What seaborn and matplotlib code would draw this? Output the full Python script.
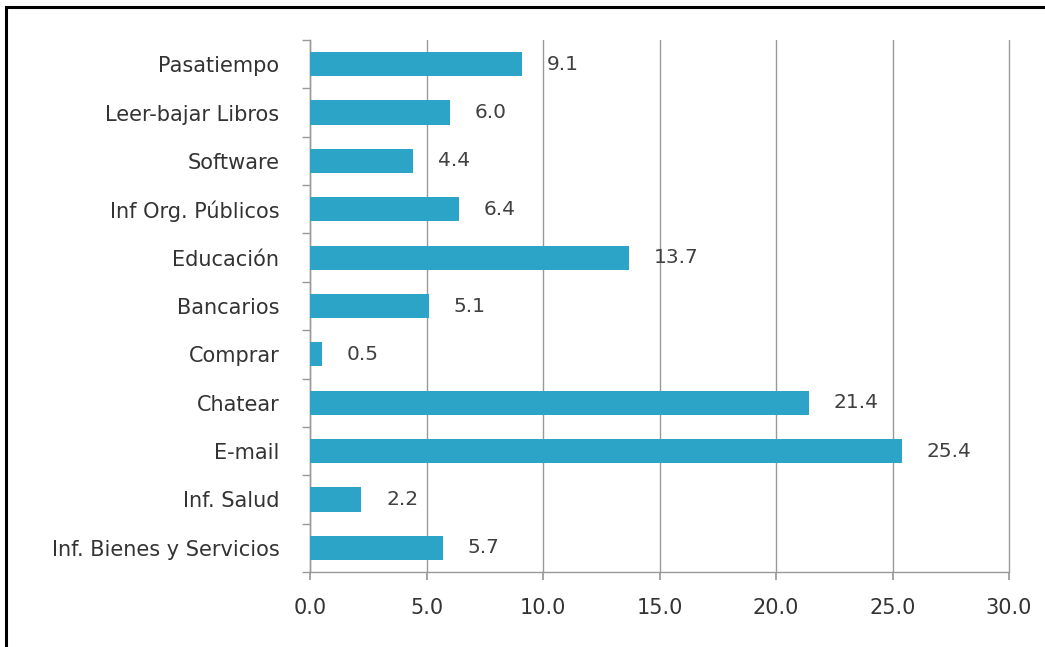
import numpy as np
import pandas as pd
import matplotlib
matplotlib.use("Agg")
import matplotlib.pyplot as plt
import seaborn as sns
from matplotlib.patches import Rectangle

categories = ["Pasatiempo", "Leer-bajar Libros", "Software", "Inf Org. Públicos",
              "Educación", "Bancarios", "Comprar", "Chatear", "E-mail",
              "Inf. Salud", "Inf. Bienes y Servicios"]
values = [9.1, 6.0, 4.4, 6.4, 13.7, 5.1, 0.5, 21.4, 25.4, 2.2, 5.7]
x_ticks = [0, 5, 10, 15, 20, 25, 30]

sns.set_theme(style="white")
plt.rcParams["font.family"] = ["DejaVu Sans"]

df = pd.DataFrame({"cat": categories, "val": values})

fig = plt.figure(figsize=(10.45, 6.47), dpi=100)
ax = fig.add_axes([310 / 1045, 1 - 572 / 647, 699 / 1045, 532 / 647])

sns.barplot(data=df, x="val", y="cat", orient="h", color="#2ba4c8",
            saturation=1, width=0.5, ax=ax, zorder=3)
for bar in ax.patches:
    bar.set_edgecolor("none")

ax.bar_label(ax.containers[0], fmt="%.1f", padding=18, fontsize=14.5,
             color="#404040", zorder=5)

ax.set_xlim(0, 30)
ax.set_ylim(len(categories) - 0.5, -0.5)
ax.set_xticks(x_ticks)
ax.set_xticklabels([f"{t:.1f}" for t in x_ticks])
ax.set_xlabel("")
ax.set_ylabel("")
ax.grid(axis="x", color="#999999", linewidth=1, zorder=0)
for gl in ax.get_xgridlines():
    gl.set_clip_on(False)

for side in ["top", "right"]:
    ax.spines[side].set_visible(False)
for side in ["left", "bottom"]:
    ax.spines[side].set_color("#999999")
    ax.spines[side].set_linewidth(1)

ax.set_yticks(np.arange(-0.5, len(categories), 1), minor=True)
ax.tick_params(axis="y", which="major", length=0, pad=22, labelsize=15,
               labelcolor="#333333")
ax.tick_params(axis="y", which="minor", length=6, color="#999999",
               direction="out", left=True)
ax.tick_params(axis="x", length=6, color="#999999", direction="out",
               bottom=True, pad=13, labelsize=15, labelcolor="#333333")

# outer frame (only top and left visible in the original)
fig.add_artist(Rectangle((6 / 1045, -0.1), 1.2, 1 - 7 / 647 + 0.1,
                         transform=fig.transFigure, fill=False,
                         edgecolor="black", linewidth=2.2))

fig.savefig("out.png", dpi=100)
